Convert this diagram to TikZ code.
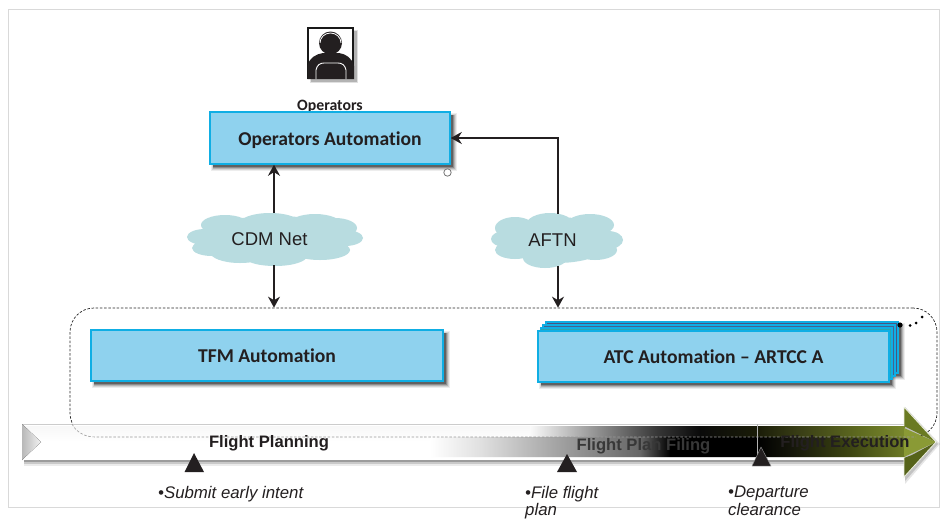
\documentclass[tikz,border=0pt]{standalone}
\usepackage{fontspec}
\setmainfont{Liberation Sans}
\newfontfamily\boxfont[Ligatures=CommonOff]{Carlito}
\usetikzlibrary{arrows.meta}
\definecolor{boxfill}{HTML}{8FD2EE}
\definecolor{boxline}{HTML}{0FAEE4}
\definecolor{cloudfill}{HTML}{B8DCE0}
\definecolor{ink}{HTML}{231F20}
\definecolor{olA}{HTML}{1A1C08}
\definecolor{olB}{HTML}{3A3F16}
\definecolor{olC}{HTML}{5F6B20}
\definecolor{olD}{HTML}{7B8A2E}
\definecolor{olE}{HTML}{14150A}
\definecolor{olF}{HTML}{3D4512}
\definecolor{olG}{HTML}{6D7B25}
\definecolor{olH}{HTML}{8A9A35}
\definecolor{olI}{HTML}{6A7A22}
\definecolor{olJ}{HTML}{56631A}
\tikzset{
  autobox/.style={draw=boxline,fill=boxfill,line width=1.5pt,minimum height=#1,inner sep=0pt,font=\boxfont\bfseries\fontsize{19.6}{22}\selectfont,text=ink},
  cloudbox/.style={inner sep=0pt,font=\fontsize{18.5}{20}\selectfont,text=ink},
  link/.style={draw=ink,line width=1.7pt,-{Stealth[length=11pt,width=12pt]}},
  marker/.style={fill=ink},
  barlabel/.style={font=\bfseries\fontsize{16.6}{18}\selectfont,text=ink},
  note/.style={font=\itshape\fontsize{16.8}{17.5}\selectfont,text=ink,align=left,anchor=north west,inner sep=0pt},
}
\newcommand{\softshadow}[4]{%
  \fill[black,opacity=.07] (#1+1,#2+1) rectangle (#3+7,#4+7);
  \fill[black,opacity=.10] (#1+2,#2+2) rectangle (#3+6,#4+6);
  \fill[black,opacity=.15] (#1+3,#2+3) rectangle (#3+5,#4+5);
  \fill[black,opacity=.22] (#1+3,#2+3) rectangle (#3+4,#4+4);
  \fill[black,opacity=.30] (#1+3,#2+3) rectangle (#3+3,#4+3);
}
\newcommand{\topseg}[4]{\fill[left color=#3,right color=#4] (#1,426) rectangle (#2,437.5);}
\newcommand{\lowseg}[4]{\fill[left color=#3,right color=#4] (#1,437) rectangle (#2,457);}
\begin{document}
\begin{tikzpicture}[x=1pt,y=-1pt]
\useasboundingbox (0,0) rectangle (940,520);
\fill[white] (0,0) rectangle (940,520);
% outer frame
\draw[black!15,line width=1pt] (8.5,9.5) rectangle (939.5,507.5);
% operator icon
\fill[black,opacity=.12] (310,30) rectangle (358,83);
\fill[black,opacity=.2] (311,31) rectangle (356.5,81.5);
\fill[white] (308,27) rectangle (354,79);
\draw[black!90,line width=1.2pt] (308,79) -- (308,28) -- (353,28) -- (353,79);
\fill[ink] (307.5,79) -- (307.5,66) .. controls (309,58) and (316,54) .. (323,53) -- (339,53) .. controls (346,54) and (352,58) .. (354,66) -- (354,79) -- cycle;
\fill[ink] (330.5,43) ellipse (11.5 and 11.5);
\draw[white,line width=.8pt] (320,43) arc (180:360:10.5 and 10);
\draw[white,line width=.9pt] (316,79) -- (316,70) .. controls (317,65) and (320,63) .. (324,63) -- (338,63) .. controls (342,63) and (345,65) .. (346,70) -- (346,79);
\node[font=\boxfont\bfseries\fontsize{15.8}{16}\selectfont,text=ink,inner sep=0pt] (oplabel) at (330,107) {Operators};
% clouds
\fill[cloudfill] (205,237) ellipse (18 and 8) (212,248) ellipse (20 and 8) (225,225) ellipse (24 and 10) (240,252) ellipse (30 and 11) (275,256) ellipse (32 and 10) (270,225) ellipse (32 and 12) (315,226) ellipse (28 and 12) (320,250) ellipse (30 and 10) (345,238) ellipse (18 and 8) (335,228) ellipse (22 and 10) (275,238) ellipse (78 and 22);
\fill[cloudfill] (505,239) ellipse (14 and 8) (515,228) ellipse (20 and 11) (515,250) ellipse (20 and 9) (545,258) ellipse (22 and 10) (550,225) ellipse (24 and 12) (590,225) ellipse (24 and 11) (595,250) ellipse (22 and 10) (608,240) ellipse (15 and 9) (557,240) ellipse (56 and 23);
\node[cloudbox,minimum width=175pt,minimum height=52pt] (cdm) at (275.5,239) {CDM Net\hspace*{12pt}};
\node[cloudbox,minimum width=132pt,minimum height=52pt] (aftn) at (557,240) {AFTN\hspace*{9pt}};
% group
\node[draw=black!85,dash pattern=on 2.5pt off 1.7pt,line width=.7pt,rounded corners=24pt,minimum width=867pt,minimum height=129pt,inner sep=0pt] (grp) at (503.5,372.5) {};
% boxes
\softshadow{210}{112}{450}{164}
\softshadow{91}{330}{443}{381}
\softshadow{546}{322}{898}{373}
\softshadow{538}{331}{889}{382}
\node[autobox=52pt,minimum width=240pt,text height=18pt,text depth=4pt] (ops) at (330,138) {Operators Automation};
\node[autobox=51pt,minimum width=352pt] (tfm) at (267,355.5) {TFM Automation};
\draw[boxline,fill=black!70!cyan!60!blue,line width=1.2pt] (546,322) rectangle (898,373);
\draw[boxline,fill=black!55!cyan!70!blue,line width=1.2pt] (543,325) rectangle (895,376);
\draw[boxline,fill=boxfill!50!black!60!cyan,line width=1.2pt] (540.5,328) rectangle (892,379);
\node[autobox=51pt,minimum width=351pt] (atc) at (713.5,356.5) {ATC Automation – ARTCC A};
% connectors
\draw[link,{Stealth[length=11pt,width=12pt]}-] (ops.south -| 274,0) -- ([xshift=-1.5pt]cdm.north);
\draw[link] ([xshift=-1.5pt]cdm.south) -- (grp.north -| 274,0);
\draw[link] ([xshift=1pt]aftn.north) |- (ops.east);
\draw[link] ([xshift=1pt]aftn.south) -- (grp.north -| 558,0);
\draw[black!60,fill=white,line width=.7pt] (447.5,172.5) circle (3.7);
% dots
\fill[black] (900,325) circle (2.6) (910,325.5) circle (1.5) (916,323) circle (1.5) (922,317) circle (1.5);
% bar shadow
\fill[black,opacity=.08] (24,460) rectangle (905,466);
\fill[black,opacity=.14] (24,460) rectangle (905,464);
\fill[black,opacity=.22] (24,460) rectangle (905,462);
\fill[black,opacity=.10] (905,407) -- (940,444) -- (905,484) -- cycle;
\fill[black,opacity=.15] (905,407) -- (938,444) -- (905,481) -- cycle;
% bar body
\fill[white] (22,424) rectangle (905,460);
\fill[top color=black!3,bottom color=white] (22,426) rectangle (905,442);
% upper facet of the shaded run
\topseg{530}{600}{black!2}{black!45}
\topseg{600}{660}{black!45}{black!80}
\topseg{660}{700}{black!80}{black!96}
\topseg{700}{757}{black!96}{olA}
\topseg{757}{800}{olA}{olB}
\topseg{800}{860}{olB}{olC}
\topseg{860}{905}{olC}{olD}
% lower facet of the shaded run
\lowseg{430}{480}{white}{black!12}
\lowseg{480}{570}{black!12}{black!40}
\lowseg{570}{640}{black!40}{black!60}
\lowseg{640}{670}{black!60}{black}
\lowseg{670}{757}{black}{black}
\lowseg{757}{790}{black}{olE}
\lowseg{790}{850}{olE}{olF}
\lowseg{850}{905}{olF}{olG}
% top and bottom bevels over the bar
\fill[black!20] (22,424) rectangle (905,425);
\fill[white,opacity=.85] (22,457) rectangle (905,460);
% left bevel
\fill[left color=black!28,right color=black!5] (22,424) -- (41,442) -- (22,460) -- cycle;
% arrow head
\fill[olH] (904,428) -- (904,457) -- (936,442) -- cycle;
\fill[olI] (904,407) -- (936,442) -- (912,430) -- (904,426) -- cycle;
\fill[olJ] (904,477) -- (936,442) -- (912,455) -- (904,458) -- cycle;
\draw[white!85!olH,line width=.8pt] (904,407) -- (936,442) -- (904,477) -- (904,458) (904,426) -- (904,407);
% overlay marks
\draw[black!30,line width=.5pt] (757.5,424) -- (757.5,460);
\draw[black!40,dash pattern=on 2.5pt off 1.7pt,line width=.6pt] (72,424) .. controls (76,432) and (85,437) .. (95,437) -- (916,437);
% markers
\fill[marker] (194,453) -- (204,472) -- (184.5,472) -- cycle;
\fill[marker] (567,454) -- (577,472) -- (557,472) -- cycle;
\draw[black!40,fill=ink,line width=.4pt] (761,447) -- (771,466) -- (752,466) -- cycle;
% bar labels
\node[barlabel] (fp) at (269,443) {Flight Planning};
\node[barlabel,text=black!78] (ff) at (643.5,446) {Flight Plan Filing};
\node[barlabel] (fe) at (845,443) {Flight Execution};
% notes
\node[note] (n1) at (158,486) {•Submit early intent};
\node[note] (n2) at (525,486) {•File flight\\plan};
\node[note] (n3) at (728,486) {•Departure\\clearance};
\end{tikzpicture}
\end{document}
